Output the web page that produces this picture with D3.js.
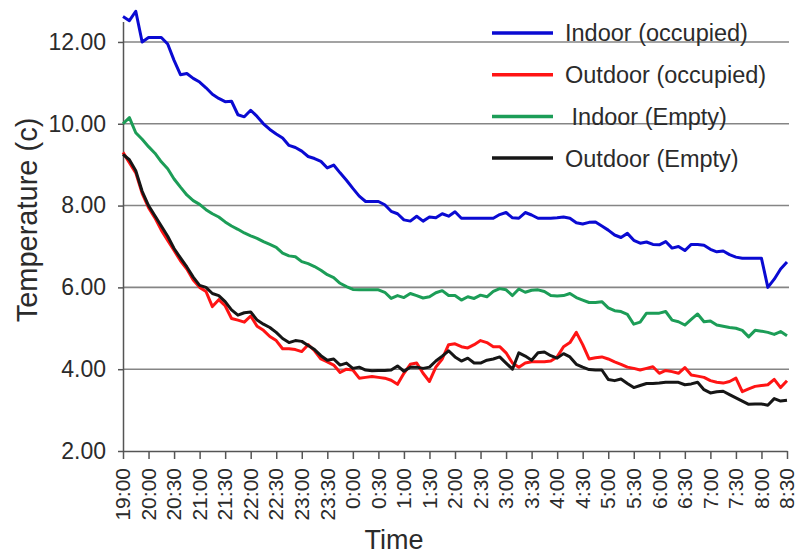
<!DOCTYPE html>
<html>
<head>
<meta charset="utf-8">
<script src="https://cdn.jsdelivr.net/npm/d3@7"></script>
<style>
body { margin: 0; background: #fff; }
text { font-family: Arial, "Liberation Sans", Helvetica, sans-serif; fill: #2b2b2b; }
</style>
</head>
<body>
<div id="chart"></div>
<script>
// tick labels along the time axis (evenly spaced, as in the original)
var timeLabels = ["19:00","20:00","20:30","21:00","21:30","22:00","22:30","23:00","23:30",
  "0:00","0:30","1:00","1:30","2:00","2:30","3:00","3:30","4:00","4:30",
  "5:00","5:30","6:00","6:30","7:00","7:30","8:00","8:30"];
var yTicks = [2, 4, 6, 8, 10, 12];

// readings, 4 samples per label step
var indoorOccupied = [12.62,12.52,12.75,12.0,12.11,12.11,12.11,11.95,11.55,11.2,
  11.23,11.11,11.02,10.88,10.72,10.62,10.54,10.55,10.22,10.17,
  10.33,10.18,10.0,9.86,9.75,9.65,9.47,9.42,9.33,9.2,
  9.15,9.08,8.92,8.99,8.8,8.62,8.42,8.23,8.1,8.1,
  8.1,8.02,7.86,7.8,7.65,7.62,7.74,7.62,7.72,7.7,
  7.8,7.74,7.85,7.69,7.69,7.69,7.69,7.69,7.69,7.78,
  7.83,7.7,7.69,7.83,7.77,7.69,7.69,7.69,7.7,7.72,
  7.69,7.58,7.55,7.59,7.6,7.5,7.4,7.28,7.22,7.32,
  7.15,7.08,7.11,7.05,7.04,7.12,6.96,7.0,6.9,7.05,
  7.05,7.03,6.93,6.87,6.89,6.8,6.74,6.71,6.71,6.71,
  6.71,6.0,6.2,6.45,6.62];
var outdoorOccupied = [9.3,9.05,8.8,8.3,7.95,7.7,7.4,7.15,6.9,6.65,
  6.45,6.18,6.0,5.9,5.53,5.7,5.55,5.24,5.2,5.15,
  5.3,5.05,4.95,4.8,4.7,4.5,4.5,4.48,4.43,4.6,
  4.45,4.25,4.18,4.1,3.92,4.0,3.98,3.78,3.8,3.82,
  3.8,3.78,3.73,3.63,3.9,4.12,4.15,3.9,3.7,4.05,
  4.25,4.6,4.62,4.55,4.52,4.6,4.7,4.65,4.55,4.55,
  4.4,4.15,4.05,4.15,4.18,4.18,4.18,4.2,4.3,4.55,
  4.65,4.9,4.6,4.25,4.28,4.3,4.25,4.18,4.12,4.05,
  4.02,3.98,4.02,4.06,3.9,3.97,3.94,3.9,4.04,3.86,
  3.83,3.8,3.72,3.68,3.66,3.7,3.78,3.45,3.52,3.58,
  3.6,3.62,3.75,3.55,3.72];
var indoorEmpty = [10.0,10.15,9.78,9.62,9.44,9.28,9.07,8.9,8.65,8.45,
  8.26,8.12,8.03,7.9,7.8,7.72,7.6,7.5,7.42,7.33,
  7.26,7.2,7.12,7.05,6.98,6.84,6.77,6.75,6.63,6.58,
  6.51,6.42,6.31,6.24,6.1,6.02,5.95,5.94,5.94,5.94,
  5.94,5.88,5.73,5.8,5.75,5.85,5.8,5.74,5.77,5.87,
  5.92,5.8,5.8,5.69,5.77,5.73,5.81,5.77,5.9,5.97,
  5.94,5.8,5.96,5.88,5.93,5.94,5.9,5.8,5.79,5.8,
  5.85,5.75,5.69,5.63,5.63,5.65,5.5,5.43,5.41,5.34,
  5.1,5.15,5.37,5.37,5.37,5.41,5.2,5.16,5.08,5.22,
  5.35,5.16,5.18,5.08,5.05,5.02,5.0,4.95,4.79,4.95,
  4.93,4.9,4.85,4.92,4.82];
var outdoorEmpty = [9.25,9.12,8.85,8.35,8.0,7.75,7.5,7.25,6.95,6.72,
  6.5,6.25,6.05,6.0,5.85,5.8,5.65,5.45,5.32,5.38,
  5.4,5.2,5.1,5.02,4.9,4.75,4.65,4.7,4.68,4.58,
  4.48,4.33,4.22,4.25,4.1,4.15,4.02,4.05,3.98,3.96,
  3.97,3.97,3.98,4.08,3.95,4.05,4.05,4.02,4.05,4.2,
  4.32,4.45,4.3,4.2,4.27,4.15,4.15,4.22,4.25,4.3,
  4.15,4.0,4.4,4.32,4.22,4.4,4.42,4.33,4.27,4.38,
  4.3,4.12,4.05,3.99,3.98,3.98,3.75,3.72,3.76,3.65,
  3.55,3.6,3.65,3.65,3.66,3.68,3.68,3.68,3.62,3.64,
  3.68,3.5,3.42,3.45,3.46,3.38,3.3,3.22,3.14,3.15,
  3.15,3.12,3.28,3.22,3.24];

var seriesNames = ["Indoor (occupied)", "Outdoor (occupied)", " Indoor (Empty)", "Outdoor (Empty)"];
var seriesColors = ["#0a0ad2", "#ff1414", "#1c9d57", "#161616"];
var seriesData = [indoorOccupied, outdoorOccupied, indoorEmpty, outdoorEmpty];

var svgWidth = 797, svgHeight = 556;
var margin = {left: 123, top: 0};
var width = 664;

var svg = d3.select("#chart").append("svg")
    .attr("width", svgWidth)
    .attr("height", svgHeight);

var g = svg.append("g")
    .attr("transform", "translate(" + margin.left + "," + margin.top + ")");

// scales
var x = d3.scaleLinear()
    .domain([0, indoorOccupied.length - 1])
    .range([0, width]);
var xTick = d3.scalePoint()
    .domain(timeLabels)
    .range([0, width]);
var y = d3.scaleLinear()
    .domain([2, 12.5])
    .range([451, 21.5]);

// gridlines
g.selectAll("line.grid")
    .data(yTicks.slice(1))
    .enter().append("line")
    .attr("class", "grid")
    .attr("x1", 0)
    .attr("x2", width + 2)
    .attr("y1", function(d) { return y(d); })
    .attr("y2", function(d) { return y(d); })
    .attr("stroke", "#858585")
    .attr("stroke-width", 1.6);

// y axis
var yAxis = g.append("g")
    .call(d3.axisLeft(y).tickValues(yTicks).tickSize(5).tickSizeOuter(0)
      .tickFormat(function(d) { return d.toFixed(2); }));
yAxis.selectAll("path, line").attr("stroke", "#555").attr("stroke-width", 1.5);
yAxis.selectAll("text")
    .attr("x", -17)
    .style("font-size", "23px")
    .style("fill", "#2b2b2b");

// x axis
var xAxis = g.append("g")
    .attr("transform", "translate(0," + y(2) + ")")
    .call(d3.axisBottom(xTick).tickSize(8).tickSizeOuter(0));
xAxis.selectAll("path, line").attr("stroke", "#555").attr("stroke-width", 1.5);
xAxis.selectAll("text")
    .attr("transform", "translate(0,17) rotate(-90)")
    .attr("x", 0)
    .attr("y", 0)
    .attr("dy", "0.32em")
    .style("text-anchor", "end")
    .style("font-size", "21px")
    .style("fill", "#2b2b2b");

// lines
var line = d3.line()
    .x(function(d, i) { return x(i); })
    .y(function(d) { return y(d); });

var drawOrder = [0, 2, 1, 3];
drawOrder.forEach(function(k) {
  g.append("path")
      .datum(seriesData[k])
      .attr("fill", "none")
      .attr("stroke", seriesColors[k])
      .attr("stroke-width", 3)
      .attr("stroke-linejoin", "round")
      .attr("d", line);
});

// legend
var legend = svg.append("g").attr("transform", "translate(492,33)");
seriesNames.forEach(function(name, i) {
  legend.append("line")
      .attr("x1", 0).attr("x2", 61)
      .attr("y1", i * 41.7).attr("y2", i * 41.7)
      .attr("stroke", seriesColors[i])
      .attr("stroke-width", 3.5);
  legend.append("text")
      .attr("x", 73)
      .attr("y", i * 41.7)
      .attr("dy", "0.36em")
      .style("white-space", "pre")
      .attr("xml:space", "preserve")
      .style("font-size", "23.5px")
      .text(name);
});

// axis titles
svg.append("text")
    .attr("x", 394)
    .attr("y", 549)
    .style("text-anchor", "middle")
    .style("font-size", "27px")
    .text("Time");

svg.append("text")
    .attr("transform", "translate(37,220) rotate(-90)")
    .style("text-anchor", "middle")
    .style("font-size", "29px")
    .text("Temperature (c)");
</script>
</body>
</html>
